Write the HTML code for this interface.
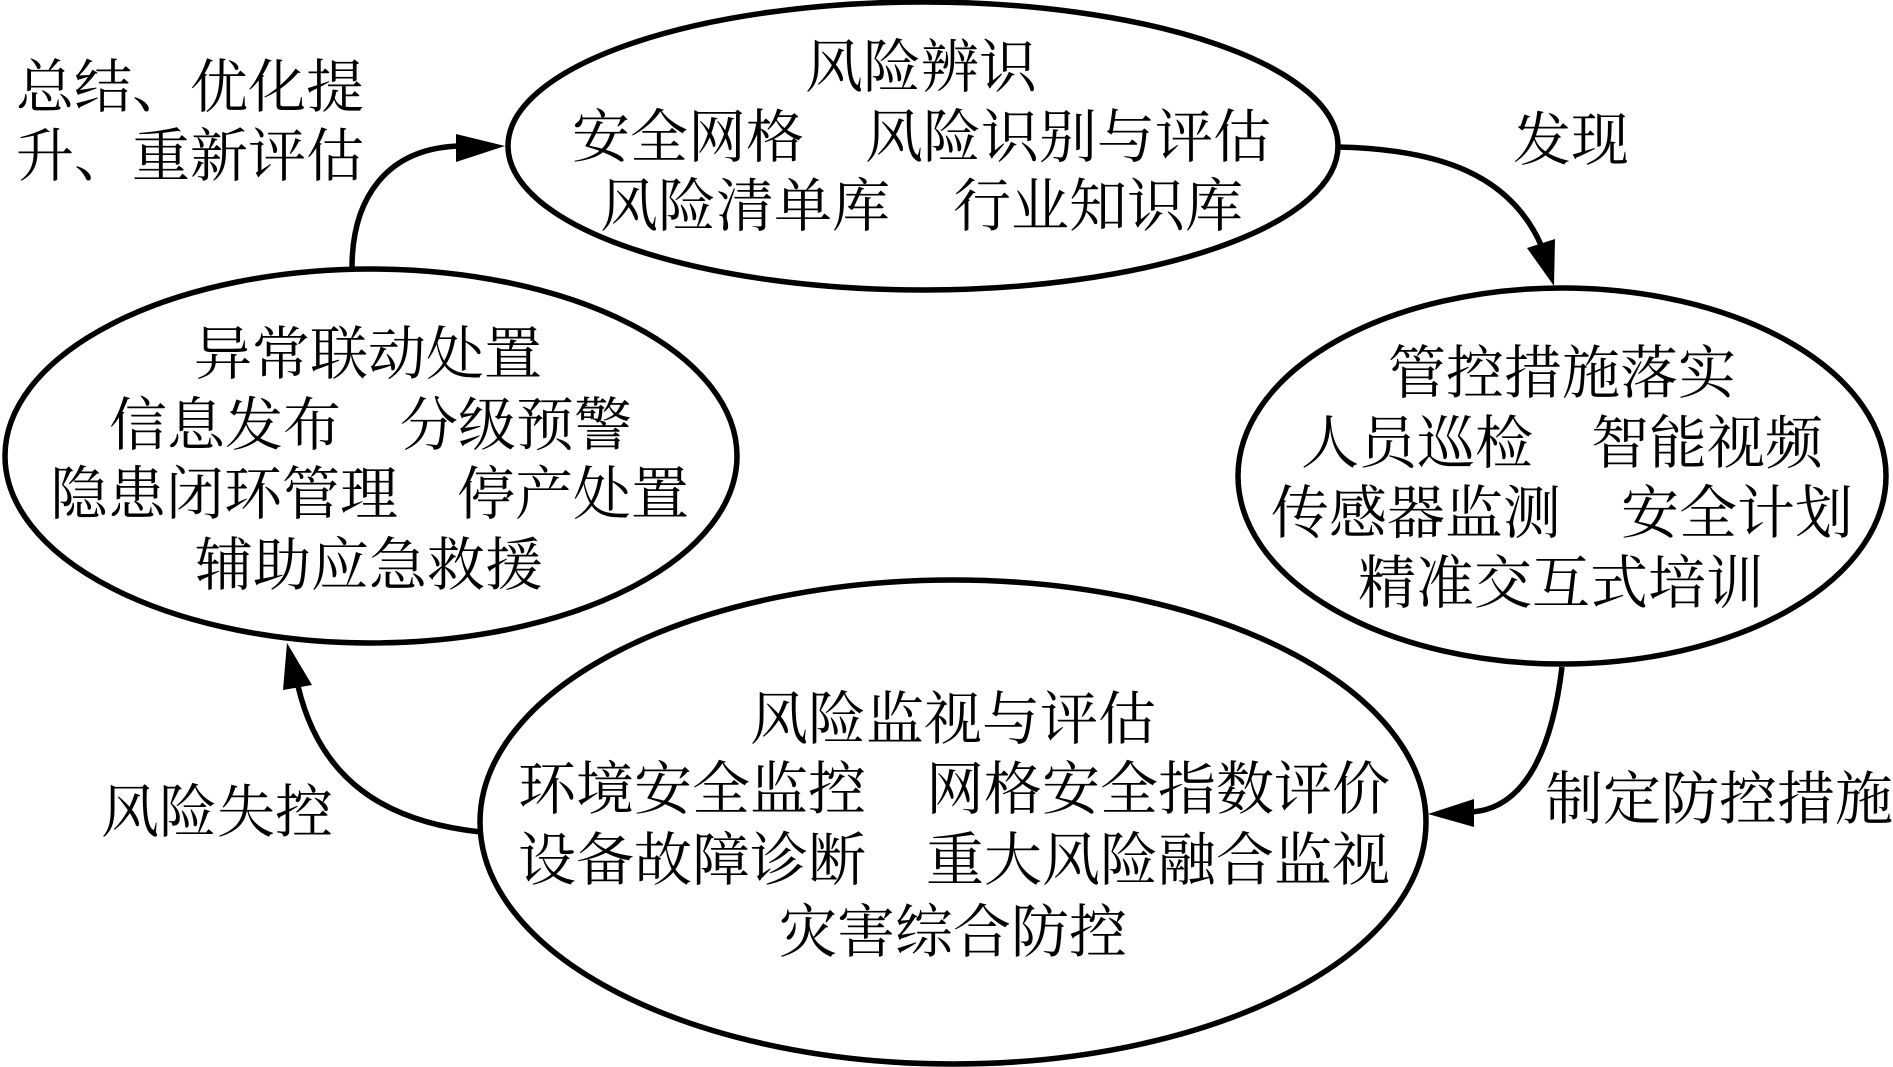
<!DOCTYPE html>
<html lang="zh">
<head>
<meta charset="utf-8">
<style>
html,body{margin:0;padding:0;background:#fff;width:1893px;height:1067px;overflow:hidden}
svg{display:block}
text{font-family:"Liberation Serif","Noto Serif CJK SC",serif;font-size:58px;fill:#000;letter-spacing:0}
</style>
</head>
<body>
<svg width="1893" height="1067" viewBox="0 0 1893 1067" xmlns="http://www.w3.org/2000/svg">
<g fill="none" stroke="#000" stroke-width="5.5">
<ellipse cx="923" cy="146" rx="415" ry="144"/>
<ellipse cx="371" cy="456" rx="366" ry="187"/>
<ellipse cx="1562" cy="476" rx="324" ry="188"/>
<ellipse cx="953" cy="822" rx="473" ry="242"/>
<path d="M352 268 C352 200 385 148 460 146"/>
<path d="M1337 147 C1440 149 1510 175 1541 245"/>
<path d="M1562 667 C1552 750 1525 808 1472 812"/>
<path d="M481 832 C385 822 320 780 298 686"/>
</g>
<g fill="#000">
<polygon points="505,146 456,134 456,162"/>
<polygon points="1554,286 1527,248 1555,239"/>
<polygon points="1428,814 1474,799 1474,827"/>
<polygon points="287,643 283,690 312,685"/>
</g>
<g transform="translate(-2 0)">
<text x="807" y="87">风险辨识</text>
<text x="574" y="157">安全网格</text>
<text x="867" y="157">风险识别与评估</text>
<text x="602" y="226">风险清单库</text>
<text x="955" y="226">行业知识库</text>
<text x="18" y="107">总结、优化提</text>
<text x="18" y="176">升、重新评估</text>
<text x="1515" y="160">发现</text>
<text x="196" y="374">异常联动处置</text>
<text x="111" y="445">信息发布</text>
<text x="402" y="445">分级预警</text>
<text x="52" y="514">隐患闭环管理</text>
<text x="459" y="514">停产处置</text>
<text x="197" y="585">辅助应急救援</text>
<text x="1390" y="393">管控措施落实</text>
<text x="1303" y="463">人员巡检</text>
<text x="1593" y="463">智能视频</text>
<text x="1273" y="533">传感器监测</text>
<text x="1623" y="533">安全计划</text>
<text x="1360" y="603">精准交互式培训</text>
<text x="752" y="739">风险监视与评估</text>
<text x="520" y="809">环境安全监控</text>
<text x="928" y="809">网格安全指数评价</text>
<text x="520" y="880">设备故障诊断</text>
<text x="928" y="880">重大风险融合监视</text>
<text x="781" y="952">灾害综合防控</text>
<text x="1547" y="819">制定防控措施</text>
<text x="103" y="832">风险失控</text>
</g>
</svg>
</body>
</html>
